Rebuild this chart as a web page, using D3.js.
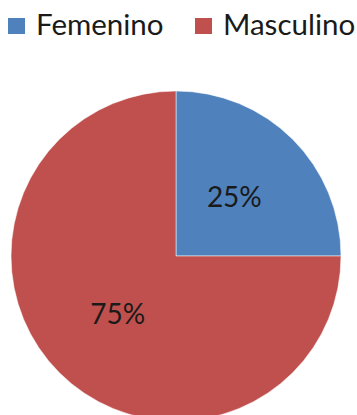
<!DOCTYPE html>
<html>
<head>
<meta charset="utf-8">
<script src="https://cdn.jsdelivr.net/npm/d3@7"></script>
<style>
  html, body { margin: 0; padding: 0; background: #fff; }
  svg { display: block; }
</style>
</head>
<body>
<svg id="chart" width="357" height="415"></svg>
<script>
// Distribution by sex
const categories = ["Femenino", "Masculino"];
const values = [25, 75];
const colors = ["#4F81BD", "#C0504D"];

const width = 357, height = 415;
const svg = d3.select("#chart");
const font = "Lato, 'Open Sans', sans-serif";

const cx = 176, cy = 256, radius = 165;

const pie = d3.pie().sort(null).value(d => d.value);
const data = pie(categories.map((c, i) => ({ name: c, value: values[i] })));
const arc = d3.arc().innerRadius(0).outerRadius(radius);
const labelArc = d3.arc().innerRadius(0).outerRadius(radius);
const color = d3.scaleOrdinal().domain(categories).range(colors);

const g = svg.append("g").attr("transform", `translate(${cx},${cy})`);

g.selectAll("path.slice")
  .data(data)
  .join("path")
  .attr("class", "slice")
  .attr("d", arc)
  .attr("fill", d => color(d.data.name))
  .attr("stroke", "rgba(255,255,255,0.5)")
  .attr("stroke-width", 1);

const total = d3.sum(values);
g.selectAll("text.pct")
  .data(data)
  .join("text")
  .attr("class", "pct")
  .attr("transform", d => `translate(${labelArc.centroid(d)})`)
  .attr("text-anchor", "middle")
  .attr("dy", "0.35em")
  .attr("font-family", font)
  .attr("font-size", 28)
  .attr("fill", "#1a1a1a")
  .text(d => Math.round(d.data.value / total * 100) + "%");

// Legend
const legendX = [8, 195];
const legend = svg.append("g").selectAll("g")
  .data(categories)
  .join("g")
  .attr("transform", (d, i) => `translate(${legendX[i]},18)`);

legend.append("rect")
  .attr("width", 17)
  .attr("height", 16)
  .attr("fill", d => color(d));

legend.append("text")
  .attr("x", 28)
  .attr("y", 17)
  .attr("font-family", font)
  .attr("font-size", 29.5)
  .attr("fill", "#1a1a1a")
  .text(d => d);
</script>
</body>
</html>
